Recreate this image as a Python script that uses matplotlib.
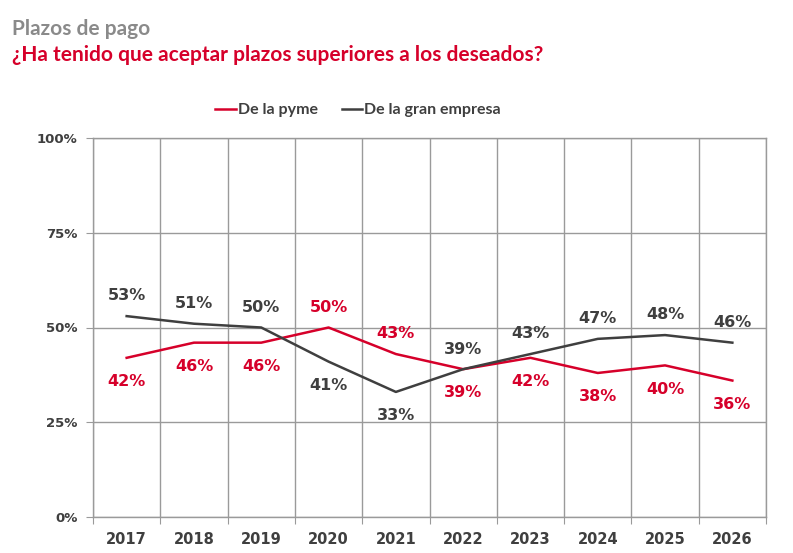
import numpy as np
import matplotlib.pyplot as plt

years = ['2017', '2018', '2019', '2020', '2021', '2022', '2023', '2024', '2025', '2026']
pyme = [42, 46, 46, 50, 43, 39, 42, 38, 40, 36]
gran = [53, 51, 50, 41, 33, 39, 43, 47, 48, 46]
# label above (+1) or below (-1) the point
pyme_pos = [-1, -1, -1, 1, 1, -1, -1, -1, -1, -1]
gran_pos = [1, 1, 1, -1, -1, 1, 1, 1, 1, 1]

RED = '#d6002a'
DARK = '#3f3f3f'
GRID = '#9a9a9a'
TITLE_FONT = ['Lato', 'DejaVu Sans']

fig = plt.figure(figsize=(7.93, 5.53), dpi=100)
ax = fig.add_axes([93/793, 1 - 517/553, (766 - 93)/793, (517 - 138)/553])

x = np.arange(len(years)) + 0.5
l1, = ax.plot(x, pyme, color=RED, lw=1.8, label='De la pyme')
l2, = ax.plot(x, gran, color=DARK, lw=1.8, label='De la gran empresa')

def offset(p):
    # labels below sit a little further from the line than labels above
    return 14.5 if p > 0 else -17

for xi, v, p in zip(x, pyme, pyme_pos):
    ax.annotate(f'{v}%', (xi, v), xytext=(0, offset(p)), textcoords='offset points',
                ha='center', va='center', color=RED, fontsize=11.5, fontweight='bold')
for xi, v, p in zip(x, gran, gran_pos):
    ax.annotate(f'{v}%', (xi, v), xytext=(0, offset(p)), textcoords='offset points',
                ha='center', va='center', color=DARK, fontsize=11.5, fontweight='bold')

ax.set_xlim(0, len(years))
ax.set_ylim(0, 100)
ax.set_yticks([0, 25, 50, 75, 100])
ax.set_yticklabels(['0%', '25%', '50%', '75%', '100%'])
ax.set_xticks(np.arange(len(years) + 1))
ax.set_xticklabels([])
ax.set_xticks(x, minor=True)
ax.set_xticklabels(years, minor=True)
ax.tick_params(axis='x', which='minor', length=0, pad=11, labelsize=10.5, labelcolor=DARK)
ax.tick_params(axis='x', which='major', length=5, color=GRID)
ax.tick_params(axis='y', length=5, color=GRID, labelsize=9.5, labelcolor=DARK, pad=6)
for lab in ax.get_xticklabels(minor=True) + ax.get_yticklabels():
    lab.set_fontweight('bold')

ax.grid(True, which='major', color=GRID, lw=1)
ax.set_axisbelow(True)
for s in ax.spines.values():
    s.set_color(GRID)
    s.set_linewidth(1)

fig.text(12/793, 1 - 29/553, 'Plazos de pago', color='#8a8a8a', fontsize=15,
         fontweight='bold', family=TITLE_FONT, va='center', ha='left')
fig.text(12/793, 1 - 55/553, '¿Ha tenido que aceptar plazos superiores a los deseados?',
         color=RED, fontsize=15, fontweight='bold', family=TITLE_FONT, va='center', ha='left')

fig.legend(handles=[l1, l2], loc='center', bbox_to_anchor=(358/793, 1 - 110/553), ncol=2,
           frameon=False, handlelength=1.3, handletextpad=0.1, columnspacing=1.5,
           prop={'family': TITLE_FONT, 'weight': 'bold', 'size': 11.5})
for t in fig.legends[0].get_texts():
    t.set_color(DARK)

fig.savefig('out.png', dpi=100)
